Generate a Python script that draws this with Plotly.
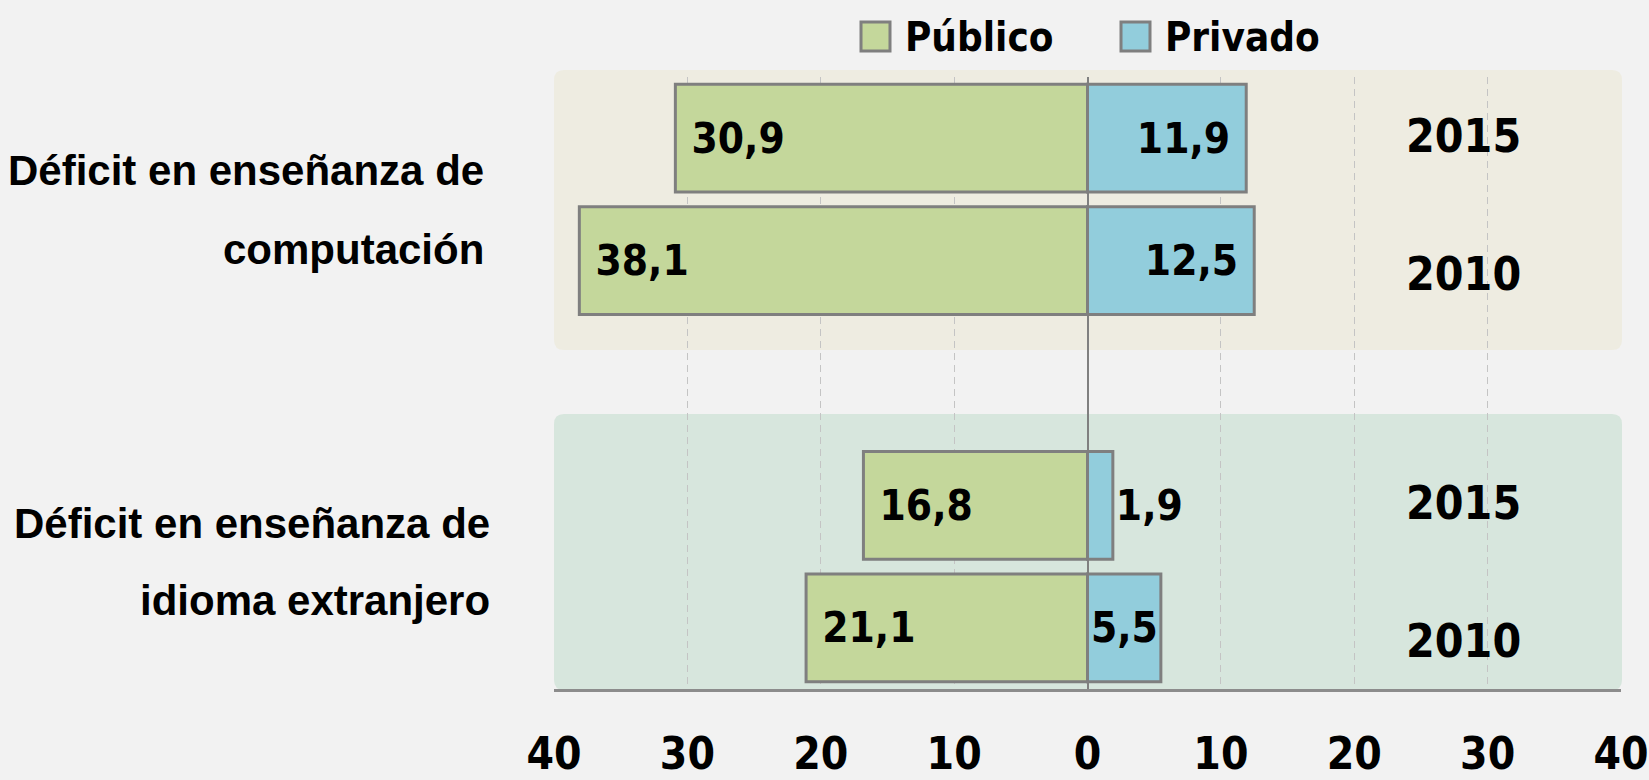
import plotly.graph_objects as go

# data
rows = ["comp-2015", "comp-2010", "idioma-2015", "idioma-2010"]
years = ["2015", "2010", "2015", "2010"]
publico = [30.9, 38.1, 16.8, 21.1]
privado = [11.9, 12.5, 1.9, 5.5]
series_names = ["Público", "Privado"]
group_lines = [["Déficit en enseñanza de", "computación"],
               ["Déficit en enseñanza de", "idioma extranjero"]]
tick_vals = [-40, -30, -20, -10, 0, 10, 20, 30, 40]

COND = "Liberation Sans Narrow, DejaVu Sans Condensed, Arial Narrow, sans-serif"
GREEN = "#c4d79b"
BLUE = "#92cddc"
EDGE = "#7f7f7f"
BG = "#f2f2f2"

W, H = 1649, 780
L, R, T, B = 554, 28, 77, 91
PW, PH = W - L - R, H - T - B


def px_x(p):
    return (p - L) / PW


def px_y(p):
    return (H - B - p) / PH


def fmt(v):
    return f"{v:.1f}".replace(".", ",")


def rounded(x0, y0, x1, y1, r=10):
    # rounded rect in paper coords, corners given in pixels
    rx, ry = r / PW, r / PH
    a, b, c, d = px_x(x0), px_y(y1), px_x(x1), px_y(y0)
    return (f"M{a+rx},{b} L{c-rx},{b} Q{c},{b} {c},{b+ry} L{c},{d-ry} Q{c},{d} {c-rx},{d} "
            f"L{a+rx},{d} Q{a},{d} {a},{d-ry} L{a},{b+ry} Q{a},{b} {a+rx},{b} Z")


val_font = dict(family=COND, size=42, color="black", weight="bold")

fig = go.Figure()
fig.add_trace(go.Bar(
    y=rows, x=[-v for v in publico], orientation="h", name=series_names[0],
    marker=dict(color=GREEN, line=dict(color=EDGE, width=3)),
    text=["\u00a0" + fmt(v) for v in publico], textposition="auto",
    insidetextanchor="end", textangle=0,
    textfont=val_font, cliponaxis=False,
))
fig.add_trace(go.Bar(
    y=rows, x=privado, orientation="h", name=series_names[1],
    marker=dict(color=BLUE, line=dict(color=EDGE, width=3)),
    text=[fmt(v) + ("\u00a0" if v > 10 else "") for v in privado], textposition="auto",
    insidetextanchor="end", textangle=0,
    textfont=val_font, outsidetextfont=val_font, cliponaxis=False,
))

shapes = [
    dict(type="path", xref="paper", yref="paper", path=rounded(554, 70, 1622, 350),
         fillcolor="#eeece1", line=dict(width=0), layer="below"),
    dict(type="path", xref="paper", yref="paper", path=rounded(554, 414, 1622, 690),
         fillcolor="#d7e6dd", line=dict(width=0), layer="below"),
]

annotations = []
# legend drawn by hand (large swatches)
for name, color, sx, tx in zip(series_names, [GREEN, BLUE], [861, 1121], [903, 1163]):
    shapes.append(dict(type="rect", xref="paper", yref="paper",
                       x0=px_x(sx), x1=px_x(sx + 29), y0=px_y(51), y1=px_y(22),
                       fillcolor=color, line=dict(color=EDGE, width=3)))
    annotations.append(dict(xref="paper", yref="paper", x=px_x(tx), y=px_y(37),
                            xanchor="left", yanchor="middle", showarrow=False, text=name,
                            font=dict(family=COND, size=40, color="black", weight="bold")))

# group labels on the left
for lines, ys, xshift in zip(group_lines, [[170, 249], [523, 600]], [-68, -62]):
    for line, yp in zip(lines, ys):
        annotations.append(dict(xref="paper", yref="paper", x=0, xshift=xshift, y=px_y(yp),
                                xanchor="right", yanchor="middle", showarrow=False, text=line,
                                font=dict(family="Liberation Sans, Arial, sans-serif", size=42,
                                          color="black", weight="bold")))

# year labels on the right
for r, yr in zip(rows, years):
    annotations.append(dict(x=28.2, y=r, xref="x", yref="y", showarrow=False,
                            text=yr, yshift=2 if yr == "2015" else -13,
                            font=dict(family=COND, size=46, color="black", weight="bold")))

fig.update_layout(
    width=W, height=H,
    margin=dict(l=L, r=R, t=T, b=B, pad=0),
    paper_bgcolor=BG, plot_bgcolor="rgba(0,0,0,0)",
    barmode="relative", bargap=0.12, showlegend=False,
    shapes=shapes, annotations=annotations,
    xaxis=dict(range=[-40, 40], tickvals=tick_vals, ticktext=[str(abs(v)) for v in tick_vals],
               showgrid=True, gridcolor="#c4c4c4", griddash="7px,5px", gridwidth=1,
               zeroline=True, zerolinecolor="#808080", zerolinewidth=2,
               showline=True, linecolor="#8c8c8c", linewidth=3,
               ticks="", ticklabelstandoff=24, automargin=False,
               ticklabeloverflow="allow",
               tickfont=dict(family=COND, size=44, color="black", weight="bold")),
    yaxis=dict(categoryorder="array",
               categoryarray=["idioma-2010", "idioma-2015", "gap", "comp-2010", "comp-2015"],
               range=[-0.5, 4.5], showticklabels=False, showgrid=False, zeroline=False,
               automargin=False),
)

fig.write_html("out.html", config={"displayModeBar": False},
               post_script="document.body.style.margin='0';")
